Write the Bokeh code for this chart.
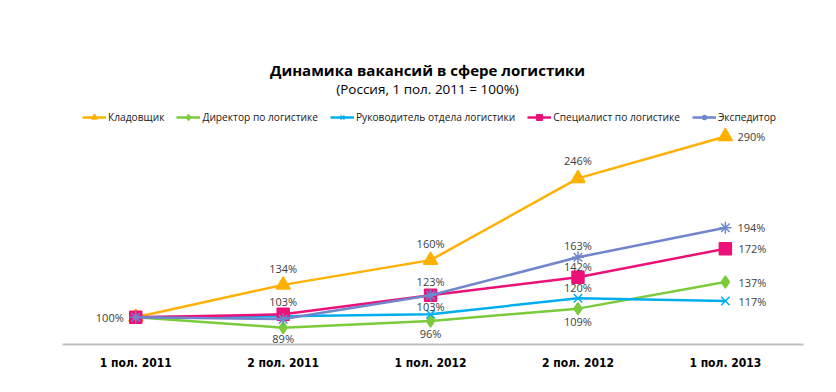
from bokeh.plotting import figure
from bokeh.models import (ColumnDataSource, Range1d, FixedTicker, Legend, LegendItem, Label)
from bokeh.core.properties import value
from bokeh.embed import file_html
from bokeh.resources import INLINE

# ---- data ----
categories = ["1 пол. 2011", "2 пол. 2011", "1 пол. 2012", "2 пол. 2012", "1 пол. 2013"]
series_names = ["Кладовщик", "Директор по логистике", "Руководитель отдела логистики",
                "Специалист по логистике", "Экспедитор"]
kladovshchik = [100, 134, 160, 246, 290]
direktor = [100, 89, 96, 109, 137]
rukovoditel = [100, 101, 103, 120, 117]
specialist = [100, 103, 123, 142, 172]
ekspeditor = [100, 98, 123, 163, 194]
series_values = [kladovshchik, direktor, rukovoditel, specialist, ekspeditor]

title_text = "Динамика вакансий в сфере логистики"
subtitle_text = "(Россия, 1 пол. 2011 = 100%)"

# ---- styles ----
colors = ["#FFB000", "#7CCB3A", "#00AEEF", "#EC1178", "#6F86CC"]
markers = ["triangle", "diamond", "x", "square", "asterisk"]
msizes = [14, 12, 12, 12, 12]
# label placements per series: index -> (mode, pixel offset)
placements = [
    {0: ("left", 12), 1: ("up", 16), 2: ("up", 17), 3: ("up", 18), 4: ("right", 12)},
    {1: ("down", 11), 2: ("down", 12), 3: ("down", 13), 4: ("right", 13)},
    {2: ("up", 8), 3: ("up", 11), 4: ("right", 13)},
    {1: ("up", 13), 2: ("up", 14), 3: ("up", 11), 4: ("right", 13)},
    {3: ("up", 12), 4: ("right", 12)},
]

FONT = "Open Sans"

p = figure(width=828, height=384, output_backend="svg", toolbar_location=None,
           x_range=Range1d(-0.497, 4.53), y_range=Range1d(71.3, 433.0),
           y_axis_location=None, min_border_left=62, min_border_right=25,
           min_border_top=0, min_border_bottom=40, title=None)
p.outline_line_color = None
p.grid.visible = False
p.background_fill_color = "white"
p.border_fill_color = "white"

xs = list(range(len(categories)))
legend_items = []
for name, vals, c, m, s in zip(series_names, series_values, colors, markers, msizes):
    src = ColumnDataSource(dict(x=xs, y=vals))
    lr = p.line("x", "y", source=src, line_color=c, line_width=2.5)
    sr = p.scatter("x", "y", source=src, marker=m, size=s, fill_color=c,
                   line_color=c, line_width=1.5)
    legend_items.append(LegendItem(label=name, renderers=[lr, sr]))

# data labels
lx, ly, lt, xo, yo, al = [], [], [], [], [], []
for vals, pl in zip(series_values, placements):
    for i, (mode, off) in pl.items():
        lx.append(xs[i]); ly.append(vals[i]); lt.append(f"{vals[i]}%")
        if mode == "up":
            xo.append(0); yo.append(-off); al.append("center")
        elif mode == "down":
            xo.append(0); yo.append(off); al.append("center")
        elif mode == "right":
            xo.append(off); yo.append(0); al.append("left")
        else:
            xo.append(-off); yo.append(0); al.append("right")
lsrc = ColumnDataSource(dict(x=lx, y=ly, text=lt, xo=xo, yo=yo, al=al))
p.text("x", "y", text="text", source=lsrc, x_offset="xo", y_offset="yo",
       text_align="al", text_baseline="middle", text_font=value(FONT),
       text_font_size="11px", text_color="#404040")

# axis
ax = p.xaxis[0]
ax.ticker = FixedTicker(ticks=xs)
ax.major_label_overrides = {i: c for i, c in zip(xs, categories)}
ax.major_tick_line_color = None
ax.minor_tick_line_color = None
ax.axis_line_color = "#C0C0C0"
ax.axis_line_width = 2
ax.major_label_standoff = 5
ax.major_label_text_font = "DejaVu Sans Condensed"
ax.major_label_text_font_style = "bold"
ax.major_label_text_font_size = "12px"
ax.major_label_text_color = "#000000"

# legend
legend = Legend(items=legend_items, orientation="horizontal", location=(20, 220),
                glyph_width=24, glyph_height=14, label_standoff=2, spacing=12,
                padding=0, margin=0, border_line_alpha=0, background_fill_alpha=0,
                label_text_font=FONT, label_text_font_size="10.2px",
                label_text_color="#202020", label_height=14)
p.add_layout(legend, "center")

# titles
p.add_layout(Label(x=365, y=275, x_units="screen", y_units="screen", text=title_text,
                   text_align="center", text_baseline="middle", text_font=FONT,
                   text_font_style="bold", text_font_size="15px", text_color="#000000"))
p.add_layout(Label(x=365, y=256, x_units="screen", y_units="screen", text=subtitle_text,
                   text_align="center", text_baseline="middle", text_font=FONT,
                   text_font_size="13.5px", text_color="#000000"))

open("out.html", "w").write(file_html(p, INLINE))
